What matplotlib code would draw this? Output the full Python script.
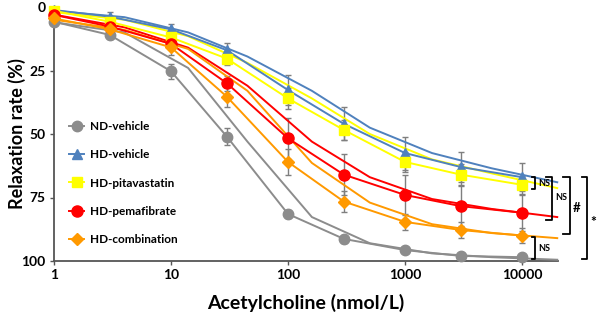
import matplotlib
matplotlib.use("Agg")
import matplotlib.pyplot as plt
import matplotlib.transforms as mtransforms

plt.rcParams['font.family'] = ['Lato', 'DejaVu Sans']
plt.rcParams['font.weight'] = 'bold'

# ---- data ----
conc = [1, 3, 10, 30, 100, 300, 1000, 3000, 10000]
nd_vehicle = [5.8, 11, 25.3, 51, 81.5, 91.3, 95.7, 98, 98.5]
hd_vehicle = [1.2, 3.8, 8.8, 17, 32.7, 46, 57.5, 63, 67]
hd_pitavastatin = [1.5, 5.8, 12, 20.3, 36, 48.4, 61, 66, 70]
hd_pemafibrate = [3.1, 7.7, 14.5, 30, 51.7, 66, 74, 78.4, 81]
hd_combination = [4.5, 8.8, 15.9, 35.3, 61, 76.6, 84.6, 87.8, 90]

nd_vehicle_err = [1, 1.5, 3, 3.5, 1.5, 1.5, 1, 1, 1]
hd_vehicle_err = [1, 2, 2, 3, 6, 6.5, 6.5, 6, 5.5]
hd_pitavastatin_err = [1, 1.5, 2, 2.5, 4, 4, 4, 4, 3.5]
hd_pemafibrate_err = [1, 1.5, 2, 3, 8, 8, 8, 8, 7]
hd_combination_err = [1, 1.5, 3, 4, 5, 4, 3, 3, 3]

fit_conc = [1, 4, 14, 45, 160, 500, 1700, 5500, 20000]
nd_vehicle_fit = [6, 10, 24, 53, 82.7, 93, 97, 98.5, 99.5]
hd_vehicle_fit = [1.5, 4, 10, 19.5, 33, 47.5, 57.5, 63.5, 69]
hd_pitavastatin_fit = [2, 5, 11.5, 22, 36, 50, 60, 65.5, 71.3]
hd_pemafibrate_fit = [3, 8, 16, 31, 53, 67, 75.6, 79.5, 82.7]
hd_combination_fit = [5, 9, 16.5, 33, 61.4, 77, 85.5, 89, 91]

labels = ['ND-vehicle', 'HD-vehicle', 'HD-pitavastatin', 'HD-pemafibrate', 'HD-combination']
x_ticks = [1, 10, 100, 1000, 10000]
x_tick_labels = ['1', '10', '100', '1000', '10000']
y_ticks = [0, 25, 50, 75, 100]

series = [
    (nd_vehicle, nd_vehicle_err, nd_vehicle_fit, '#8c8c8c', 'o', 7.5),
    (hd_vehicle, hd_vehicle_err, hd_vehicle_fit, '#4f81bd', '^', 7),
    (hd_pitavastatin, hd_pitavastatin_err, hd_pitavastatin_fit, '#ffff00', 's', 7.5),
    (hd_pemafibrate, hd_pemafibrate_err, hd_pemafibrate_fit, '#ff0000', 'o', 8),
    (hd_combination, hd_combination_err, hd_combination_fit, '#ff9900', 'D', 6),
]

fig = plt.figure(figsize=(5.98, 3.16), dpi=100)
ax = fig.add_axes([54/598, 55/316, 504/598, 254/316])
ax.set_xscale('log')

handles = []
for (vals, err, fit, col, mk, ms), lab in zip(series, labels):
    ax.errorbar(conc, vals, yerr=err, fmt='none', ecolor='#7f7f7f',
                elinewidth=1, capsize=2, capthick=1, zorder=2, clip_on=False)
for (vals, err, fit, col, mk, ms), lab in zip(series, labels):
    ax.plot(fit_conc, fit, color=col, lw=1.4, zorder=3, clip_on=False)
    h, = ax.plot(conc, vals, color=col, lw=1.4, marker=mk, ms=ms,
                 mec=col, mfc=col, zorder=4, clip_on=False, label=lab)
    handles.append(h)

ax.set_xlim(1, 20300)
ax.set_ylim(100, 0)
ax.set_xticks(x_ticks)
ax.set_xticklabels(x_tick_labels)
ax.xaxis.set_minor_locator(matplotlib.ticker.NullLocator())
ax.set_yticks(y_ticks)
for s in ['top', 'right']:
    ax.spines[s].set_visible(False)
for s in ['left', 'bottom']:
    ax.spines[s].set_color('#555555')
    ax.spines[s].set_linewidth(1.3)
ax.tick_params(axis='both', direction='out', length=3, width=1, color='#555555',
               labelsize=10, pad=3)
for t in ax.get_xticklabels() + ax.get_yticklabels():
    t.set_fontweight('bold')

ax.set_xlabel('Acetylcholine (nmol/L)', fontsize=14, fontweight='bold', labelpad=9)
ax.set_ylabel('Relaxation rate (%)', fontsize=13, fontweight='bold')
ax.yaxis.set_label_coords(-0.056, 0.5)

leg = ax.legend(handles=handles, loc='upper left', bbox_to_anchor=(0.03, 0.55),
                frameon=False, fontsize=8.5, handlelength=1.3, handletextpad=0.5,
                labelspacing=1.45, borderpad=0, borderaxespad=0)
for t in leg.get_texts():
    t.set_fontweight('bold')

# significance brackets: x in axes fraction, y in data units
tr = mtransforms.blended_transform_factory(ax.transAxes, ax.transData)
brackets = [
    # x_vert, y_top, y_bot, tick_len, text, text_y, fontsize
    (0.954, 66.8, 71.8, 0.006, 'NS', 69.3, 6.5),
    (0.988, 66.8, 83.9, 0.012, 'NS', 75.0, 6.5),
    (1.024, 66.8, 89.4, 0.014, '#', 79.2, 9.5),
    (1.058, 66.8, 99.2, 0.011, '*', 84.5, 10),
    (0.954, 90.7, 99.2, 0.006, 'NS', 95.0, 6.5),
]
for xv, yt, yb, tl, txt, ty, fs in brackets:
    ax.plot([xv - tl, xv, xv, xv - tl], [yt, yt, yb, yb], color='black',
            lw=1.3, transform=tr, clip_on=False, zorder=5)
    ax.text(xv + 0.006, ty, txt, transform=tr, fontsize=fs, fontweight='bold',
            ha='left', va='center', clip_on=False)

fig.savefig('out.png', dpi=100)
